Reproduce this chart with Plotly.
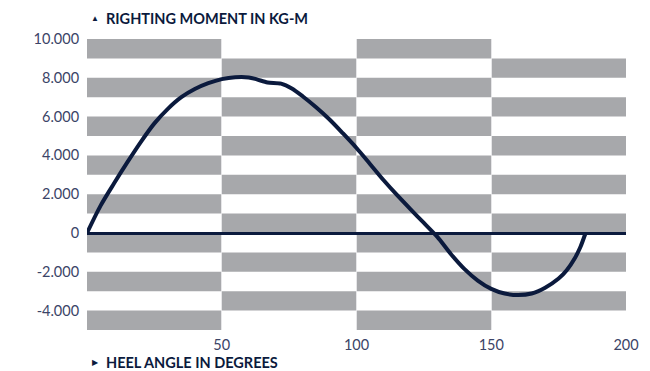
import plotly.graph_objects as go

# Data
heel_angle = [0, 5, 10, 15, 20, 25, 30, 35, 40, 45, 50, 55, 60, 63, 67, 72, 76, 80, 85, 90,
              95, 100, 105, 110, 115, 120, 125, 130, 135, 140, 145, 150, 155, 160, 165, 170,
              175, 178, 181, 183, 185]
righting_moment = [0, 1400, 2550, 3650, 4700, 5650, 6400, 7000, 7420, 7720, 7930, 8030, 8020,
                   7920, 7760, 7700, 7450, 7050, 6480, 5850, 5130, 4380, 3560, 2730, 1960, 1230,
                   520, -200, -1080, -1850, -2450, -2880, -3120, -3200, -3120, -2820, -2350,
                   -1920, -1300, -750, 0]

y_tick_vals = [10000, 8000, 6000, 4000, 2000, 0, -2000, -4000]
y_tick_text = ["10.000", "8.000", "6.000", "4.000", "2.000", "0", "-2.000", "-4.000"]
x_tick_vals = [50, 100, 150, 200]
x_tick_text = ["50", "100", "150", "200"]

y_title = "RIGHTING MOMENT IN KG-M"
x_title = "HEEL ANGLE IN DEGREES"

NAVY = "#0b1a3d"
GRAY = "#a7a8ab"
TICK = "#3b4467"

fig = go.Figure()

fig.add_trace(go.Scatter(
    x=heel_angle, y=righting_moment, mode="lines",
    line=dict(color=NAVY, width=4, shape="spline", smoothing=0.8),
    hoverinfo="skip", showlegend=False,
))

# checkerboard stripe background
shapes = []
col_edges = [0, 50, 100, 150, 200]
for ci in range(4):
    for k in range(-5, 10):
        gray = (k % 2 == 1) if ci % 2 == 0 else (k % 2 == 0)
        if gray:
            shapes.append(dict(type="rect", xref="x", yref="y",
                               x0=col_edges[ci], x1=col_edges[ci + 1],
                               y0=k * 1000, y1=(k + 1) * 1000,
                               fillcolor=GRAY, line=dict(width=0), layer="below"))

# page body has an 8px margin, so the figure is sized/offset to compensate
fig.update_layout(
    width=642, height=363,
    margin=dict(l=79, r=24, t=31, b=41),
    paper_bgcolor="white", plot_bgcolor="white",
    shapes=shapes,
    font=dict(family="Lato, 'Open Sans', sans-serif", color=TICK, size=14),
    xaxis=dict(range=[0, 200], tickvals=x_tick_vals, ticktext=x_tick_text,
               showgrid=True, gridcolor="#e6e6e8", gridwidth=1,
               zeroline=False, showline=False, automargin=False,
               ticks="outside", ticklen=2, tickcolor="rgba(0,0,0,0)",
               tickfont=dict(size=14.5, color=TICK)),
    yaxis=dict(range=[-5000, 10000], tickvals=y_tick_vals, ticktext=y_tick_text,
               showgrid=False, zeroline=True, zerolinecolor=NAVY, zerolinewidth=3,
               showline=False, automargin=False,
               ticks="outside", ticklen=4, tickcolor="rgba(0,0,0,0)",
               tickfont=dict(size=14.5, color=TICK)),
    annotations=[
        dict(text="▲", xref="paper", yref="paper", x=0.0, y=1.0, xshift=2,
             yshift=21, xanchor="left", yanchor="middle", showarrow=False,
             font=dict(size=8, color=NAVY)),
        dict(text="<b>" + y_title + "</b>", xref="paper", yref="paper", x=0.0, y=1.0,
             xshift=17, yshift=21, xanchor="left", yanchor="middle", showarrow=False,
             font=dict(size=14.5, color=NAVY)),
        dict(text="▶", xref="paper", yref="paper", x=0.0, y=0.0, xshift=3,
             yshift=-32, xanchor="left", yanchor="middle", showarrow=False,
             font=dict(size=8, color=NAVY)),
        dict(text="<b>" + x_title + "</b>", xref="paper", yref="paper", x=0.0, y=0.0,
             xshift=17, yshift=-32, xanchor="left", yanchor="middle", showarrow=False,
             font=dict(size=14.5, color=NAVY)),
    ],
)

fig.write_html("out.html")
